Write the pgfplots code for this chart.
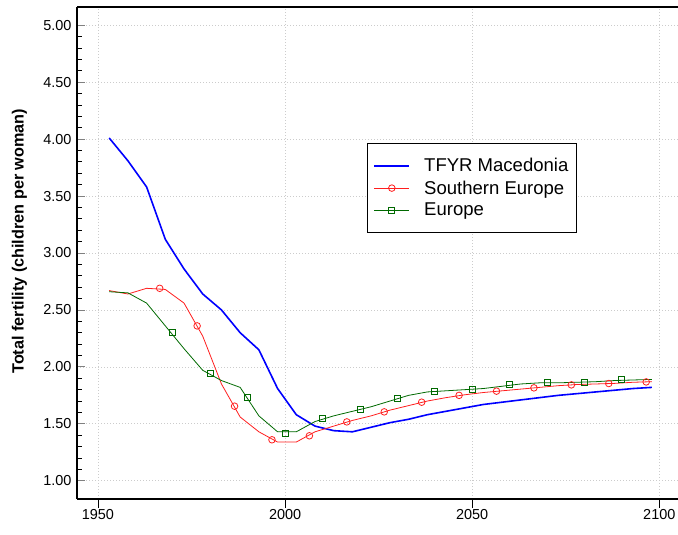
\documentclass[border=0pt]{standalone}
\usepackage{fontspec}
\setmainfont{Liberation Sans}
\usepackage{pgfplots}
\pgfplotsset{compat=1.18}
\definecolor{mkblue}{RGB}{0,0,255}
\definecolor{mkred}{RGB}{255,30,30}
\definecolor{mkgreen}{RGB}{0,105,0}
\begin{document}
\begin{tikzpicture}
\useasboundingbox (0,0) rectangle (678bp,535bp);
\begin{axis}[
  at={(77bp,36bp)}, anchor=south west,
  scale only axis, width=601bp, height=492bp,
  xmin=1944.4, xmax=2105, ymin=0.84, ymax=5.16,
  axis x line*=bottom, axis y line*=left,
  axis line style={black, line width=1.2bp},
  xtick={1950,2000,2050,2100},
  ytick={1,1.5,2,2.5,3,3.5,4,4.5,5},
  minor y tick num=4,
  tick align=inside,
  major tick length=8bp, minor tick length=5bp,
  x tick style={yshift=-9bp, black, line width=0.8bp},
  y tick style={black, line width=0.8bp},
  major y tick style={gray},
  grid=major,
  major grid style={dash pattern=on 1.2bp off 1.8bp, gray!40, line width=0.7bp},
  /pgf/number format/assume math mode=true,
  x tick label style={/pgf/number format/1000 sep={}, font=\fontsize{14.5}{16}\selectfont, yshift=-7bp},
  y tick label style={/pgf/number format/.cd, fixed, fixed zerofill, precision=2, /tikz/.cd, font=\fontsize{14.5}{16}\selectfont, xshift=-2bp},
  every axis y label/.style={at={(axis description cs:-0.0957,0.524)}, rotate=90, anchor=center},
  ylabel={\bfseries Total fertility (children per woman)},
  label style={font=\fontsize{16.3}{18}\selectfont},
  legend style={at={(rel axis cs:0.4825,0.724)}, anchor=north west,
    draw=black, line width=0.9bp, font=\fontsize{18.6}{21}\selectfont,
    inner xsep=6bp, inner ysep=13bp, row sep=3.5bp, cells={anchor=west},
    /tikz/every odd column/.append style={column sep=12bp}},
  legend image code/.code={\draw[mark repeat=2, mark phase=2, line width=1bp, #1] plot coordinates {(0bp,0bp) (17.5bp,0bp) (35bp,0bp)};},
  clip=false,
]
\draw[black, line width=1.2bp] (rel axis cs:0,1) -- (rel axis cs:1,1);
% TFYR Macedonia
\addplot[mkblue, line width=1.6bp, mark=none, legend image code/.code={\draw[mkblue, line width=1.8bp] (0bp,0bp) -- (35bp,0bp);}] coordinates {
(1953,4.01) (1958,3.81) (1963,3.58) (1968,3.12) (1973,2.86) (1978,2.64)
(1983,2.50) (1988,2.30) (1993,2.15) (1998,1.81) (2003,1.58) (2008,1.48)
(2013,1.44) (2018,1.43) (2023,1.47) (2028,1.51) (2033,1.54) (2038,1.58)
(2043,1.61) (2048,1.64) (2053,1.67) (2058,1.69) (2063,1.71) (2068,1.73)
(2073,1.75) (2078,1.765) (2083,1.78) (2088,1.795) (2093,1.81) (2098,1.82)};
\addlegendentry{TFYR Macedonia}
% Southern Europe
\addplot[mkred, line width=0.8bp, mark=none, legend image post style={mark=o, mark size=3.3bp, mark options={solid, line width=0.8bp}}] coordinates {
(1953,2.67) (1958,2.64) (1963,2.69) (1968,2.68) (1973,2.56) (1978,2.27)
(1983,1.85) (1988,1.56) (1993,1.43) (1998,1.34) (2003,1.34) (2008,1.43)
(2013,1.48) (2018,1.53) (2023,1.57) (2028,1.62) (2033,1.66) (2038,1.70)
(2043,1.73) (2048,1.755) (2053,1.775) (2058,1.79) (2063,1.805) (2068,1.82)
(2073,1.835) (2078,1.845) (2083,1.85) (2088,1.855) (2093,1.865) (2098,1.87)};
\addlegendentry{Southern Europe}
% Europe
\addplot[mkgreen, line width=0.8bp, mark=none, legend image post style={mark=square, mark size=3bp, mark options={solid, line width=0.8bp}}] coordinates {
(1953,2.66) (1958,2.65) (1963,2.56) (1968,2.36) (1973,2.16) (1978,1.97)
(1983,1.88) (1988,1.82) (1993,1.57) (1998,1.43) (2003,1.43) (2008,1.52)
(2013,1.57) (2018,1.61) (2023,1.65) (2028,1.70) (2033,1.75) (2038,1.78)
(2043,1.79) (2048,1.80) (2053,1.81) (2058,1.83) (2063,1.85) (2068,1.86)
(2073,1.86) (2078,1.865) (2083,1.87) (2088,1.88) (2093,1.885) (2098,1.89)};
\addlegendentry{Europe}
% markers
\addplot[forget plot, only marks, mkred, mark=o, mark size=3.3bp, line width=0.8bp] coordinates {
(1966.5,2.69) (1976.5,2.36) (1986.5,1.655) (1996.5,1.36) (2006.5,1.395)
(2016.5,1.517) (2026.5,1.605) (2036.5,1.69) (2046.5,1.75) (2056.5,1.787)
(2066.5,1.816) (2076.5,1.842) (2086.5,1.854) (2096.5,1.868)};
\addplot[forget plot, only marks, mkgreen, mark=square, mark size=3bp, line width=0.8bp, mark options={fill=green!15!white}] coordinates {
(1970,2.30) (1980,1.94) (1990,1.73) (2000,1.42) (2010,1.547) (2020,1.626)
(2030,1.725) (2040,1.787) (2050,1.80) (2060,1.842) (2070,1.86) (2080,1.868)
(2090,1.886)};
\end{axis}
\end{tikzpicture}
\end{document}
